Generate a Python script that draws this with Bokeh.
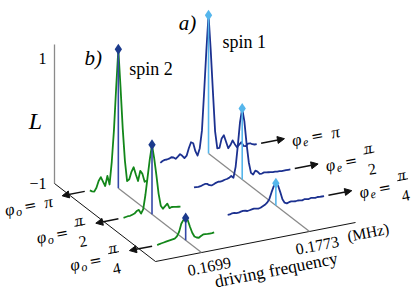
import math
from bokeh.plotting import figure
from bokeh.models import Range1d, Arrow, NormalHead
from bokeh.core.properties import value
from bokeh.embed import file_html
from bokeh.resources import INLINE

# ---------------- data ----------------
# driving-frequency grids (MHz)
spin1_freq = [0.17400, 0.17415, 0.17430, 0.17445, 0.17460, 0.17475, 0.17490, 0.17505, 0.17520,
              0.17535, 0.17550, 0.17565, 0.17580, 0.17595, 0.17610, 0.17625, 0.17640, 0.17655,
              0.17670, 0.17685, 0.17700, 0.17715, 0.17730, 0.17745, 0.17760, 0.17775, 0.17790,
              0.17805, 0.17820, 0.17835, 0.17850, 0.17865, 0.17880, 0.17895, 0.17910, 0.17925,
              0.17940, 0.17955, 0.17970, 0.17985, 0.18000, 0.18015, 0.18030, 0.18045, 0.18060]
spin2_freq = [0.16795, 0.16810, 0.16825, 0.16840, 0.16855, 0.16870, 0.16885, 0.16900, 0.16915,
              0.16930, 0.16945, 0.16960, 0.16975, 0.16990, 0.17005, 0.17020, 0.17035, 0.17050,
              0.17065, 0.17080, 0.17095, 0.17110, 0.17125, 0.17140, 0.17155, 0.17170, 0.17185]

# spin 1 (phi_e = pi, pi/2, pi/4)
spin1_L_pi = [-1.0, -0.98, -0.97, -0.97, -0.965, -0.95, -0.96, -0.985, -0.96, -0.93, -0.96, -1.0,
              -0.97, -0.87, -0.79, -0.81, -0.93, -1.0, -0.9, -0.65, -0.1, 0.48, 0.99, 0.48, -0.12,
              -0.7, -0.95, -0.95, -0.82, -0.78, -0.88, -0.98, -0.94, -0.88, -0.94, -0.99, -0.96,
              -0.93, -0.99, -1.0, -0.97, -0.97, -0.99, -1.0, -1.0]
spin1_L_pi2 = [-0.98, -0.98, -0.985, -0.98, -0.97, -0.96, -0.965, -0.99, -1.0, -0.99, -0.975, -0.965,
               -0.97, -0.965, -0.955, -0.95, -0.94, -0.92, -0.95, -0.8, -0.5, -0.17, 0.02, -0.17,
               -0.5, -0.77, -0.93, -0.96, -0.91, -0.93, -0.97, -0.97, -0.96, -0.965, -0.97, -0.975,
               -0.98, -0.98, -0.985, -0.985, -0.99, -0.99, -0.99, -0.99, -0.99]
spin1_L_pi4 = [-1.0, -1.0, -0.99, -0.99, -1.0, -1.0, -0.99, -0.985, -0.99, -1.0, -0.995, -0.99,
               -0.985, -0.99, -0.995, -0.99, -0.975, -0.96, -0.935, -0.89, -0.8, -0.72, -0.68, -0.72,
               -0.82, -0.93, -0.985, -1.0, -0.99, -0.985, -0.99, -0.995, -0.99, -0.995, -1.0, -0.99,
               -0.995, -1.0, -0.99, -0.995, -1.0, -0.995, -1.0, -1.0, -1.0]
# spin 2 (phi_o = pi, pi/2, pi/4)
spin2_L_pi = [-0.95, -0.97, -0.98, -0.93, -0.84, -0.79, -0.86, -0.93, -0.79, -0.92, -0.6, -0.15,
              0.45, 1.0, 0.45, -0.15, -0.62, -0.92, -0.9, -0.8, -0.74, -0.85, -0.95, -0.81, -0.86,
              -0.98, -0.97]
spin2_L_pi2 = [-0.97, -0.965, -0.96, -0.96, -0.95, -0.94, -0.91, -0.9, -0.96, -0.9, -0.7, -0.45,
               -0.2, 0.0, -0.2, -0.45, -0.72, -0.9, -0.95, -0.92, -0.89, -0.96, -0.95, -0.955,
               -0.96, -0.965, -0.97]
spin2_L_pi4 = [-0.99, -0.98, -0.975, -0.97, -0.965, -0.96, -0.955, -0.95, -0.945, -0.92, -0.86,
               -0.75, -0.7, -0.68, -0.72, -0.82, -0.91, -0.97, -0.99, -1.0, -0.98, -0.965, -0.965,
               -0.97, -0.97, -0.97, -0.965]

phase_denominators = [None, "2", "4"]          # pi, pi/2, pi/4
freq_ticks = [0.1699, 0.1773]
freq_tick_labels = ["0.1699", "0.1773"]
L_ticks = [1, -1]
L_tick_labels = ["1", "\u22121"]

# ---------------- oblique 3-D projection ----------------
F_MIN, F_MAX = 0.16675, 0.18045
DEPTH_MAX = 3.0
PX_PER_MHZ = 14600.0
SLOPE = 0.195
DEPTH_VEC = (33.67, 26.0)
L_PX = 69.5
ORIGIN = (54.0, 183.0)


def proj(f, depth, L):
    u = (f - F_MIN) * PX_PER_MHZ
    x = ORIGIN[0] + u + depth * DEPTH_VEC[0]
    y = ORIGIN[1] - u * SLOPE + depth * DEPTH_VEC[1] - (L + 1.0) * L_PX
    return x, y


TH = math.atan(SLOPE)
EX = (math.cos(TH), -math.sin(TH))
EY = (math.sin(TH), math.cos(TH))
ROT = TH   # text rises to the right


def local(x0, y0, u, v):
    return x0 + u * EX[0] + v * EY[0], y0 + u * EX[1] + v * EY[1]


SERIF = "Liberation Serif"
BLUE = "#1c3190"
GREEN = "#13871a"
LIGHT_BLUE = "#55b6ec"
DARK_DIAMOND = "#1b3a8c"
GREEN_VLINE = "#3448a8"
GRAY = "#8a8a8a"
BLACK = "#111111"

p = figure(width=415, height=290, x_range=Range1d(0, 415), y_range=Range1d(290, 0),
           output_backend="svg", toolbar_location=None, min_border=0,
           x_axis_location=None, y_axis_location=None)
p.grid.visible = False
p.outline_line_color = None
p.background_fill_color = "white"
p.border_fill_color = "white"


def add_text(x, y, s, size, font=SERIF, style="normal", align="left", baseline="alphabetic",
             angle=0.0, color="black"):
    p.text(x=[x], y=[y], text=[s], angle=angle, text_font=value(font), text_font_size=f"{size}px",
           text_font_style=style, text_align=align, text_baseline=baseline, text_color=color)


# ---------------- axes ----------------
x0, y0 = proj(F_MIN, 0, -1)
x1, y1 = proj(F_MIN, 0, 1)
p.line([x0, x1], [y0, y1], line_color=GRAY, line_width=1.3)
xd, yd = proj(F_MIN, DEPTH_MAX, -1)
p.line([x0, xd], [y0, yd], line_color=BLACK, line_width=1.0)
xe, ye = proj(F_MAX, DEPTH_MAX, -1)
p.line([xd, xe], [yd, ye], line_color=BLACK, line_width=1.0)

# L tick labels
L_label_dy = [14, 0]
for t, lab, dy in zip(L_ticks, L_tick_labels, L_label_dy):
    tx, ty = proj(F_MIN, 0, t)
    add_text(tx - 8, ty + dy, lab, 16, align="right")
add_text(x0 - 19, (y0 + y1) / 2 + 7, "L", 24, style="italic", align="center")

# frequency tick labels
for t, lab in zip(freq_ticks, freq_tick_labels):
    tx, ty = proj(t, DEPTH_MAX, -1)
    lx, ly = local(tx, ty, 5, 15)
    add_text(lx, ly, lab, 16, align="center", baseline="middle", angle=ROT)
lx, ly = local(xe, ye, 10.5, 12)
add_text(lx, ly, "(MHz)", 15.5, align="center", baseline="middle", angle=ROT)
lx, ly = local((xd + xe) / 2, (yd + ye) / 2, 15, 31)
add_text(lx, ly, "driving frequency", 17.5, align="center", baseline="middle", angle=ROT)

# ---------------- traces ----------------
traces = [
    dict(f=spin1_freq, L=spin1_L_pi, depth=0.0, spin=1, den=phase_denominators[0]),
    dict(f=spin2_freq, L=spin2_L_pi, depth=0.53, spin=2, den=phase_denominators[0]),
    dict(f=spin1_freq, L=spin1_L_pi2, depth=1.0, spin=1, den=phase_denominators[1]),
    dict(f=spin2_freq, L=spin2_L_pi2, depth=1.53, spin=2, den=phase_denominators[1]),
    dict(f=spin1_freq, L=spin1_L_pi4, depth=2.0, spin=1, den=phase_denominators[2]),
    dict(f=spin2_freq, L=spin2_L_pi4, depth=2.53, spin=2, den=phase_denominators[2]),
]

# gray guide lines at the resonance of each spin
for spin, fr in ((1, spin1_freq), (2, spin2_freq)):
    back = min(t["depth"] for t in traces if t["spin"] == spin)
    tr = [t for t in traces if t["spin"] == spin and t["depth"] == back][0]
    k = tr["L"].index(max(tr["L"]))
    gx0, gy0 = proj(fr[k], back, -1)
    gx1, gy1 = proj(fr[k], DEPTH_MAX, -1)
    p.line([gx0, gx1], [gy0, gy1], line_color=GRAY, line_width=1.3)

peaks = {}
for tr in traces:
    pts = [proj(f, tr["depth"], L) for f, L in zip(tr["f"], tr["L"])]
    xs = [q[0] for q in pts]
    ys = [q[1] for q in pts]
    is1 = tr["spin"] == 1
    p.line(xs, ys, line_color=BLUE if is1 else GREEN, line_width=1.8, line_join="round")
    k = tr["L"].index(max(tr["L"]))
    bx, by = proj(tr["f"][k], tr["depth"], -1)
    px_, py_ = proj(tr["f"][k], tr["depth"], tr["L"][k])
    p.line([bx, px_], [by, py_], line_color=LIGHT_BLUE if is1 else GREEN_VLINE, line_width=1.6)
    p.scatter([px_], [py_], marker="diamond", size=11,
              fill_color=LIGHT_BLUE if is1 else DARK_DIAMOND, line_color=None)
    if tr["depth"] in (0.0, 0.53):
        peaks[tr["spin"]] = (px_, py_)

    # arrow + phase label
    if is1:
        fa = tr["f"][-1] + 0.0003
        fb = tr["f"][-1] + 0.0019
        La = tr["L"][-1]
    else:
        fa = tr["f"][0] - 0.00035
        fb = tr["f"][0] - 0.0019
        La = tr["L"][0]
    ax0, ay0 = proj(fa, tr["depth"], La)
    ax1, ay1 = proj(fb, tr["depth"], La)
    p.add_layout(Arrow(end=NormalHead(size=7, line_color=BLACK, fill_color=BLACK, line_width=1),
                       x_start=ax0, y_start=ay0, x_end=ax1, y_end=ay1,
                       line_color=BLACK, line_width=1.5))
    sub = "e" if is1 else "o"
    W = 50 if tr["den"] is None else 52
    u0 = 7 if is1 else -9 - W
    vb = 3.5
    bx0, by0 = local(ax1, ay1, u0, vb)
    add_text(bx0, by0, "\u03c6", 17, style="italic", angle=ROT)
    sx, sy = local(bx0, by0, 10.5, 4)
    add_text(sx, sy, sub, 12, style="italic", angle=ROT)
    ex_, ey_ = local(bx0, by0, 19.5, 0)
    add_text(ex_, ey_, "=", 15, font="DejaVu Serif", angle=ROT)
    if tr["den"] is None:
        qx, qy = local(bx0, by0, 40, 0)
        add_text(qx, qy, "\u03c0", 17, style="italic", angle=ROT)
    else:
        nx, ny = local(bx0, by0, 45, -9.5)
        add_text(nx, ny, "\u03c0", 16, style="italic", align="center", angle=ROT)
        dx_, dy_ = local(bx0, by0, 45, 11.5)
        add_text(dx_, dy_, tr["den"], 16, align="center", angle=ROT)
        l0 = local(bx0, by0, 39.5, -4.5)
        l1 = local(bx0, by0, 50.5, -4.5)
        p.line([l0[0], l1[0]], [l0[1], l1[1]], line_color="black", line_width=0.9)

# spin / panel labels
sx1, sy1 = peaks[1]
add_text(sx1 + 14, sy1 + 27, "spin 1", 18)
add_text(sx1 - 21, sy1 + 8, "a)", 21, style="italic", align="center")
sx2, sy2 = peaks[2]
add_text(sx2 + 11, sy2 + 20, "spin 2", 18)
add_text(sx2 - 25, sy2 + 9, "b)", 21, style="italic", align="center")

open("out.html", "w").write(file_html(p, INLINE))
